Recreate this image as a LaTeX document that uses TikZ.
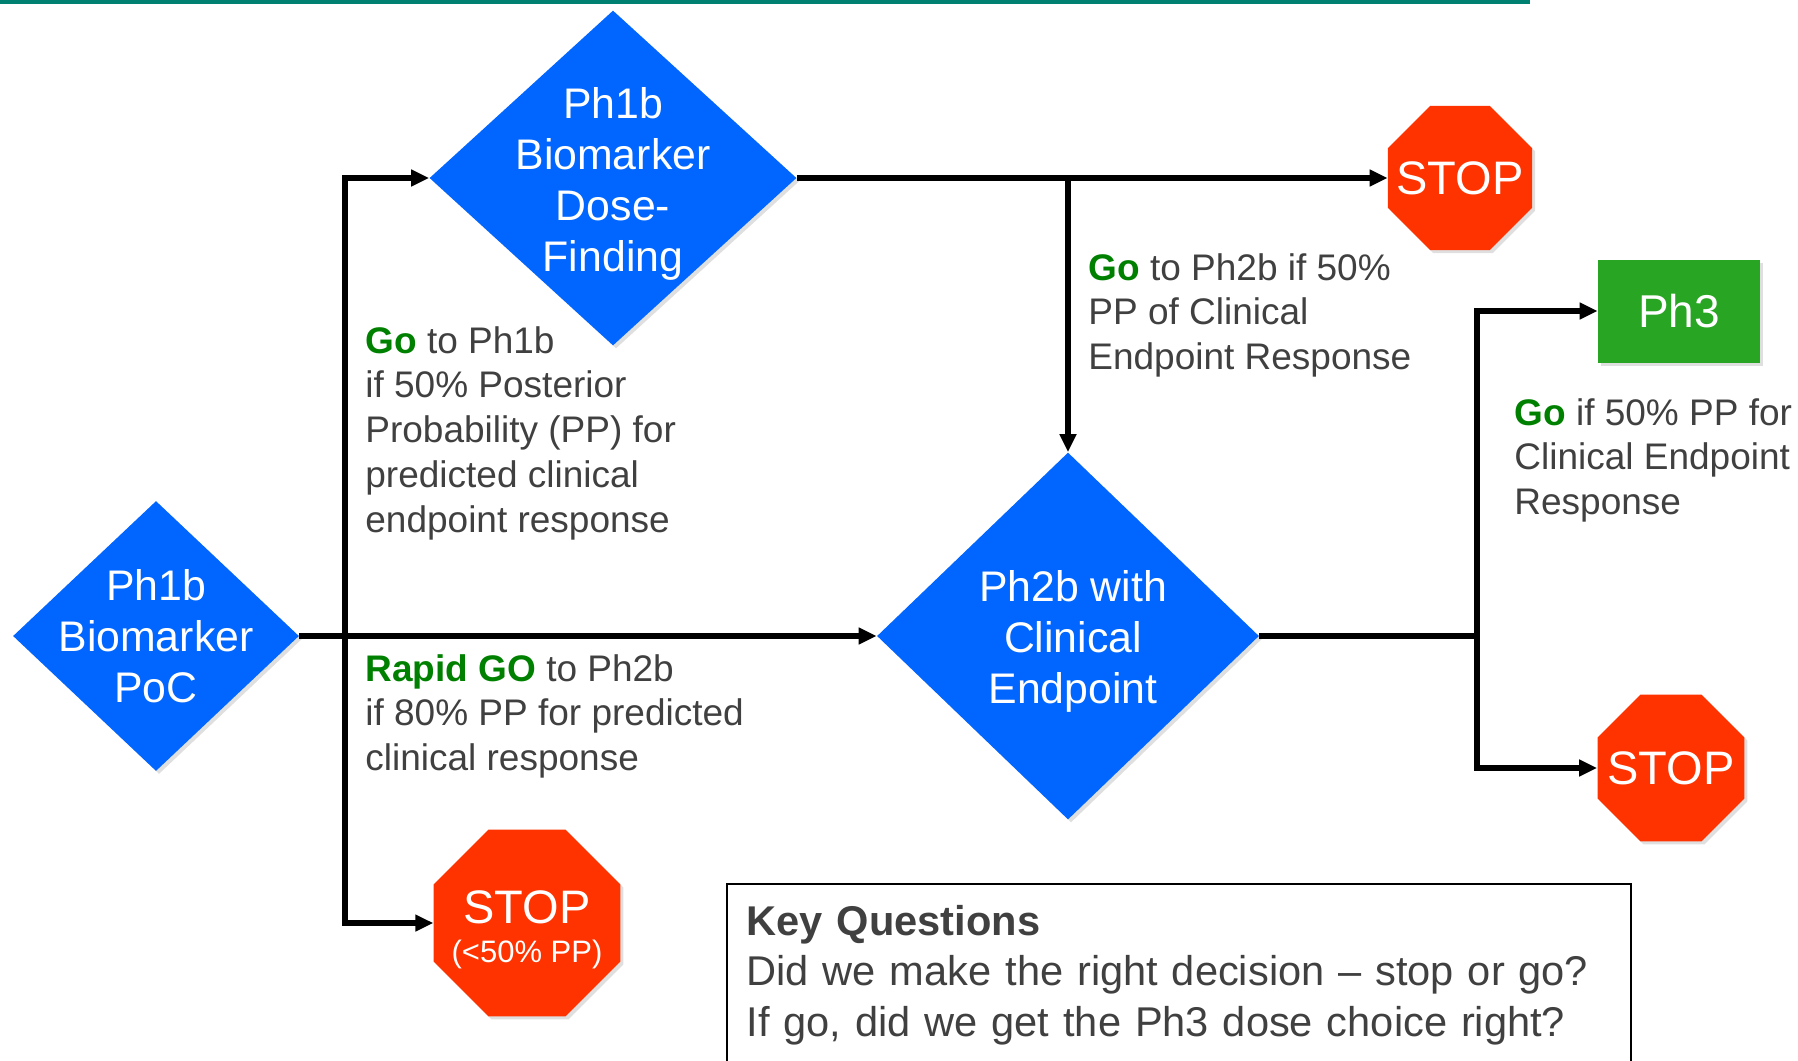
\documentclass[tikz,border=0pt]{standalone}
\usepackage{fontspec}
\setmainfont{Liberation Sans}
\usepackage{tikz}
\usetikzlibrary{arrows.meta, shapes.geometric, shadows}

\definecolor{decblue}{RGB}{0,102,255}
\definecolor{stopred}{RGB}{255,51,0}
\definecolor{phgreen}{RGB}{40,165,35}
\definecolor{gogreen}{RGB}{0,128,0}
\definecolor{txtgray}{RGB}{64,64,64}
\definecolor{rulecol}{RGB}{0,128,112}

\newcommand{\go}[1]{\textbf{\textcolor{gogreen}{#1}}}

\begin{document}
\begin{tikzpicture}[
  x=0.5pt, y=-0.5pt,
  softshadow/.style={drop shadow={opacity=.25, shadow xshift=1.5pt, shadow yshift=-1.5pt}},
  decision/.style={diamond, fill=decblue, inner sep=0pt, softshadow},
  dectext/.style={text=white, align=center, font=\fontsize{21.4}{25.6}\selectfont},
  stopsign/.style={regular polygon, regular polygon sides=8, fill=stopred, inner sep=0pt, softshadow},
  stoptext/.style={text=white, align=center, font=\fontsize{23.5}{28}\selectfont},
  phase/.style={rectangle, fill=phgreen, text=white, minimum width=81pt, minimum height=51.5pt, font=\fontsize{23}{27}\selectfont, softshadow},
  rule/.style={align=left, inner sep=0pt, text=txtgray, font=\fontsize{18.5}{22.35}\selectfont},
  keybox/.style={draw, line width=1pt, text width=432.2pt, align=left, inner xsep=9.8pt, inner ysep=10.5pt, text=txtgray, font=\fontsize{20.8}{25.3}\selectfont},
  >={Triangle[length=9pt, width=8pt]},
  flow/.style={->, line width=2.6pt}
]
\useasboundingbox (0,0) rectangle (1798,1060);
\fill[rulecol] (0,0) rectangle (1530,3.5);

% decisions
\node[decision, minimum width=143pt, minimum height=135pt,
  label={[dectext]center:{Ph1b\\Biomarker\\PoC}}] (poc) at (156,636) {};
\node[decision, minimum width=183.5pt, minimum height=167.5pt,
  label={[dectext, yshift=-2.9pt]center:{Ph1b\\Biomarker\\Dose-\\Finding}}] (dose) at (613,178) {};
\node[decision, minimum width=191pt, minimum height=183.5pt,
  label={[dectext, xshift=2.5pt, yshift=-2.6pt]center:{Ph2b with\\Clinical\\Endpoint}}] (ph2b) at (1068,636) {};

% outcomes
\node[stopsign, minimum size=78pt, label={[stoptext]center:STOP}] (stopA) at (1460,178) {};
\node[stopsign, minimum size=101pt,
  label={[stoptext, yshift=-3.4pt, font=\fontsize{23.5}{19.5}\selectfont]center:{STOP\\{\fontsize{15.5}{19.5}\selectfont(<50\% PP)}}}] (stopB) at (527,923) {};
\node[stopsign, minimum size=79.5pt, label={[stoptext]center:STOP}] (stopC) at (1671,768) {};
\node[phase] (ph3) at (1679,311) {Ph3};

% rules
\node[rule, anchor=north west] (ruleA) at (365,326) {\go{Go} to Ph1b\\if 50\% Posterior\\Probability (PP) for\\predicted clinical\\endpoint response};
\node[rule, anchor=north west] (ruleB) at (1088,253) {\go{Go} to Ph2b if 50\%\\PP of Clinical\\Endpoint Response};
\node[rule, anchor=north west] (ruleC) at (1514,398) {\go{Go} if 50\% PP for\\Clinical Endpoint\\Response};
\node[rule, anchor=north west] (ruleD) at (365,654) {\go{Rapid GO} to Ph2b\\if 80\% PP for predicted\\clinical response};

\node[keybox, anchor=north west] (keyq) at (726,883) {\textbf{Key Questions}\\Did we make the right decision \textendash{} stop or go?\\If go, did we get the Ph3 dose choice right?};

% connectors
\coordinate (fork1) at (345,636);
\coordinate (fork3) at (1477,636);
\draw[flow] (poc.east) -- (ph2b.west);
\draw[flow] (fork1) |- (dose.west);
\draw[flow] (fork1) |- (stopB.west);
\draw[flow] (dose.east) -- (stopA.west);
\draw[flow] (dose.east -| ph2b.north) -- (ph2b.north);
\draw[flow] (ph2b.east) -- (fork3) |- (ph3.west);
\draw[flow] (fork3) |- (stopC.west);
\end{tikzpicture}
\end{document}
